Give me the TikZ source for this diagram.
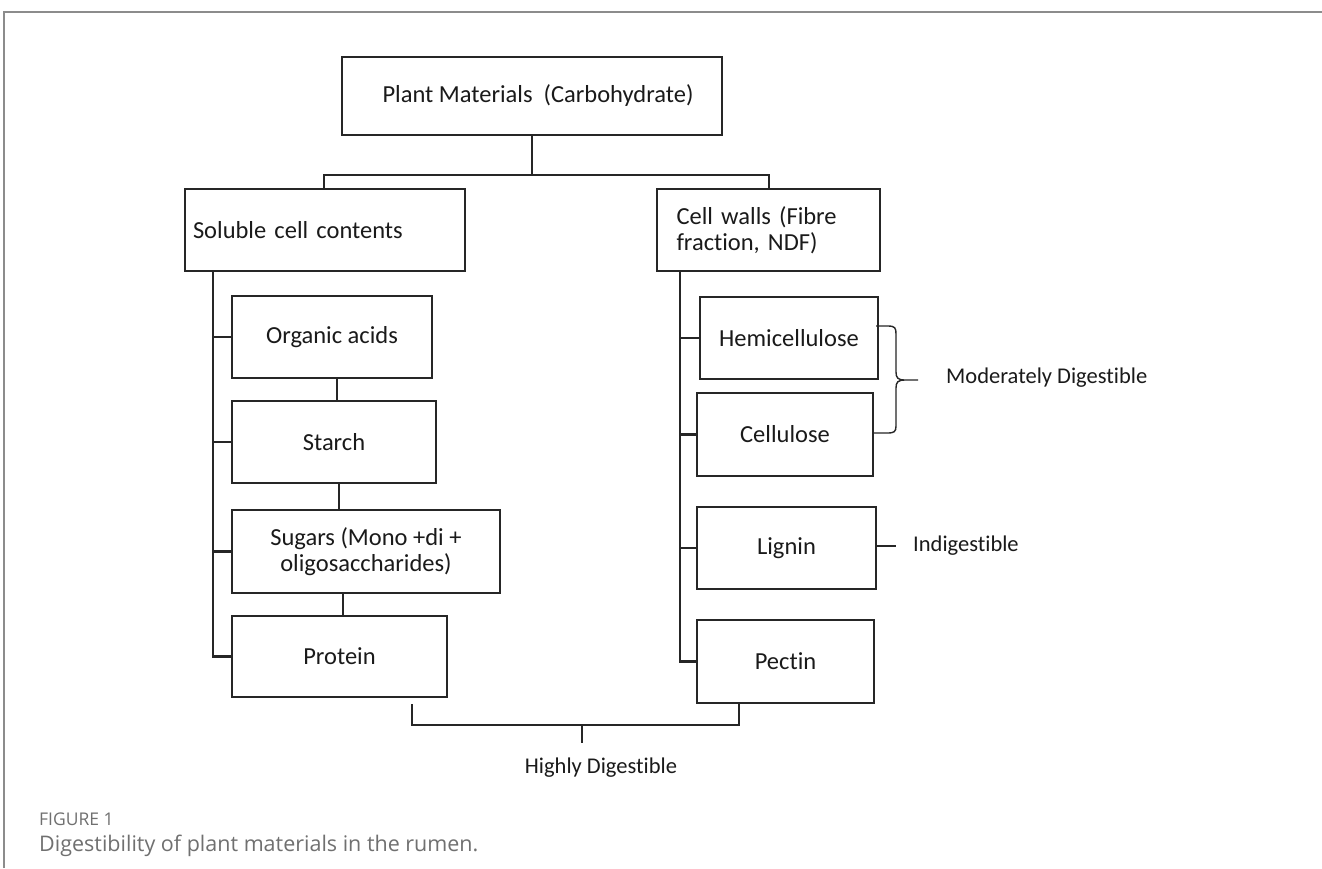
\documentclass[tikz,border=0pt]{standalone}
\usepackage{fontspec}
\setmainfont{Carlito}[Ligatures={NoCommon}]
\newfontfamily\capfont{Open Sans}
\usetikzlibrary{calc}
\definecolor{linec}{HTML}{262626}
\definecolor{txtc}{HTML}{1A1A1A}
\definecolor{capc}{HTML}{707070}
\definecolor{framec}{HTML}{8C8C8C}
\begin{document}
\begin{tikzpicture}[x=1pt,y=-1pt,
  bx/.style={draw=linec, line width=1.6pt, rectangle, inner sep=0pt, text=txtc,
             font=\fontsize{24.5}{26.5}\selectfont, align=center},
  trunk/.style={draw=linec, line width=2.4pt},
  thin/.style={draw=linec, line width=1.4pt},
  lbl/.style={text=txtc, font=\fontsize{22.5}{26}\selectfont, inner sep=0pt},
]
\useasboundingbox (0,0) rectangle (1322,868);
\fill[white] (0,0) rectangle (1322,868);
% frame
\draw[framec, line width=2pt] (4,868) -- (4,12) -- (1322,12);

% top
\node[bx, minimum width=380pt, minimum height=78pt] (top) at (532,96) {\hspace*{12pt}Plant Materials\ \ (Carbohydrate)};

% second level
\node[bx, minimum width=280pt, minimum height=82pt, text width=264pt, align=left] (sol) at (325,230) {Soluble cell contents};
\node[bx, minimum width=223pt, minimum height=82pt, text width=184pt, align=left] (cw) at (768.5,230) {Cell walls (Fibre\\fraction, NDF)};

% top connectors
\coordinate (hb) at (532,175);
\coordinate (hl) at (324,175);
\coordinate (hr) at (769,175);
\draw[trunk] (top.south -| hb) -- (hb);
\draw[trunk] (hl |- sol.north) -- (hl) -- (hr) -- (hr |- cw.north);

% left column
\node[bx, minimum width=200pt, minimum height=82pt] (oa) at (332,337) {Organic acids};
\node[bx, minimum width=204pt, minimum height=82pt] (st) at (334,442) {Starch};
\node[bx, minimum width=268pt, minimum height=83pt] (su) at (366,551.5) {Sugars (Mono +di +\\oligosaccharides)};
\node[bx, minimum width=215pt, minimum height=81pt] (pr) at (339.5,656.5) {Protein};

\coordinate (lt) at (213,271);
\draw[trunk] (lt) |- (pr.west);
\foreach \n in {oa,st,su}{\draw[trunk] (\n.west -| lt) -- (\n.west);}
\draw[thin] (337,378) -- (337,401);
\draw[thin] (339,483) -- (339,510);
\draw[thin] (343,593) -- (343,616);

% right column
\node[bx, minimum width=178pt, minimum height=82pt] (hc) at (789,338) {Hemicellulose};
\node[bx, minimum width=176pt, minimum height=83pt] (ce) at (785,434.5) {Cellulose};
\node[bx, minimum width=179pt, minimum height=82pt] (lg) at (786.5,548) {Lignin};
\node[bx, minimum width=177pt, minimum height=83pt] (pe) at (785.5,661.5) {Pectin};

\coordinate (rt) at (680,271);
\draw[trunk] (rt) |- (pe.west);
\foreach \n in {hc,ce,lg}{\draw[trunk] (\n.west -| rt) -- (\n.west);}

% brace
\coordinate (b1) at (876,326);
\coordinate (b2) at (874,433);
\coordinate (bt) at (918,380);
\draw[thin] (b1) -- (888,326) .. controls (895,326) and (896,328) .. (896,334)
  -- (896,372) .. controls (896,378) and (898,380) .. (905,380) -- (bt)
  (905,380) .. controls (898,380) and (896,382) .. (896,388)
  -- (896,426) .. controls (896,432) and (894,433) .. (887,433) -- (b2);
\node[lbl, anchor=west] (md) at (946,378) {Moderately Digestible};

% lignin label
\coordinate (li) at (896,546);
\draw[thin] (lg.east |- li) -- (li);
\node[lbl, anchor=west] (ind) at (913,546) {Indigestible};

% bottom bracket
\coordinate (bl) at (412,704);
\coordinate (bc) at (582,725);
\coordinate (bd) at (582,743);
\draw[thin] (bl) -- (412,725) -- (739,725) -- (pe.south -| 739,0);
\draw[thin] (bc) -- (bd);
\node[lbl] (hd) at (601,768) {Highly Digestible};

% caption
\node[anchor=west, inner sep=0pt, text=capc, font=\capfont\fontsize{17.5}{20}\selectfont] (fig) at (39,819) {FIGURE 1};
\node[anchor=west, inner sep=0pt, text=capc, font=\capfont\fontsize{21.5}{24}\selectfont] (cap) at (39,846) {Digestibility of plant materials in the rumen.};
\end{tikzpicture}
\end{document}
